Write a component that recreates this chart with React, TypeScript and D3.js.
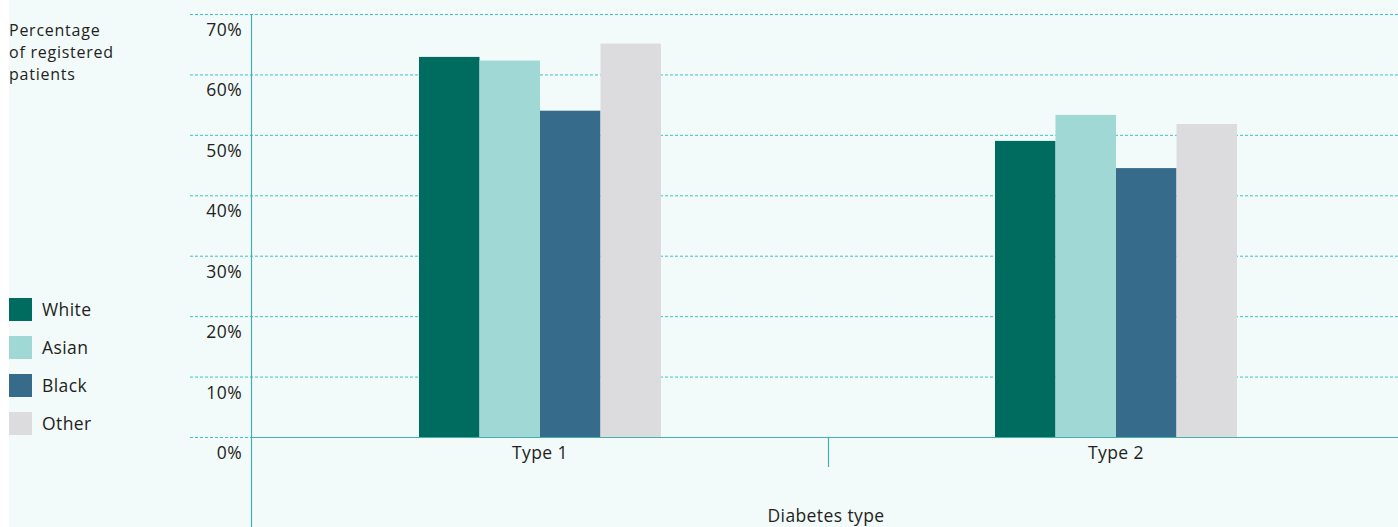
import React from "react";
import * as d3 from "d3";

const categories = ["Type 1", "Type 2"];
const seriesNames = ["White", "Asian", "Black", "Other"];
const white = [62.9, 49.0];
const asian = [62.3, 53.3];
const black = [54.0, 44.5];
const other = [65.1, 51.8];
const yTicks = [0, 10, 20, 30, 40, 50, 60, 70];
const titleLines = ["Percentage", "of registered", "patients"];
const colors = ["#006b5f", "#9fd8d4", "#376b8c", "#dcdbdd"];

const W = 1398;
const H = 527;

export default function App() {
  const series = [white, asian, black, other];
  const x0 = d3.scaleBand<string>().domain(categories).range([252, 1404]).paddingInner(0).paddingOuter(0);
  const groupW = 242;
  const x1 = d3.scaleBand<string>().domain(seriesNames).range([0, groupW]);
  const y = d3.scaleLinear().domain([0, 70]).range([437, 14]);
  const font = "'Open Sans', 'Noto Sans', sans-serif";
  const textColor = "#231f20";
  const gridColor = "#3cc3c3";
  const axisColor = "#44b0b0";
  const fs = 17.5;
  const ls = 0.4;

  return (
    <div style={{ position: "absolute", left: 0, top: 0, width: W, height: H, overflow: "hidden" }}>
      <svg width={W} height={H} style={{ display: "block" }} fontFamily={font} letterSpacing={ls}>
        <rect x={9} y={0} width={W - 9} height={H} fill="#f2fafa" />
        {yTicks.map((t) => (
          <g key={t}>
            <line
              x1={190}
              x2={W}
              y1={y(t) + 0.5}
              y2={y(t) + 0.5}
              stroke={gridColor}
              strokeWidth={1}
              strokeDasharray="3,2"
            />
            <text x={242} y={y(t) + 22} textAnchor="end" fontSize={fs} fill={textColor}>
              {t}%
            </text>
          </g>
        ))}
        {categories.map((c, ci) => (
          <g key={c} transform={`translate(${(x0(c) as number) + x0.bandwidth() / 2 - groupW / 2},0)`}>
            {seriesNames.map((s, si) => (
              <rect
                key={s}
                x={x1(s) as number}
                y={y(series[si][ci])}
                width={x1.bandwidth()}
                height={y(0) - y(series[si][ci])}
                fill={colors[si]}
              />
            ))}
          </g>
        ))}
        <line x1={251} x2={W} y1={437.5} y2={437.5} stroke={axisColor} strokeWidth={1.2} />
        <line x1={251.5} x2={251.5} y1={14} y2={H} stroke={axisColor} strokeWidth={1.2} />
        <line
          x1={(x0(categories[1]) as number) + 0.5}
          x2={(x0(categories[1]) as number) + 0.5}
          y1={437}
          y2={467}
          stroke={axisColor}
          strokeWidth={1.2}
        />
        {categories.map((c) => (
          <text
            key={c}
            x={(x0(c) as number) + x0.bandwidth() / 2}
            y={459}
            textAnchor="middle"
            fontSize={fs}
            fill={textColor}
          >
            {c}
          </text>
        ))}
        <text x={826} y={522} textAnchor="middle" fontSize={fs} fill={textColor}>
          Diabetes type
        </text>
        {titleLines.map((line, i) => (
          <text key={line} x={9} y={35.5 + i * 22} fontSize={16} letterSpacing={0.75} fill={textColor}>
            {line}
          </text>
        ))}
        {seriesNames.map((s, i) => (
          <g key={s} transform={`translate(9,${298 + i * 38})`}>
            <rect x={0} y={0} width={23} height={23} fill={colors[i]} />
            <text x={33} y={18} fontSize={fs} fill={textColor}>
              {s}
            </text>
          </g>
        ))}
      </svg>
    </div>
  );
}
